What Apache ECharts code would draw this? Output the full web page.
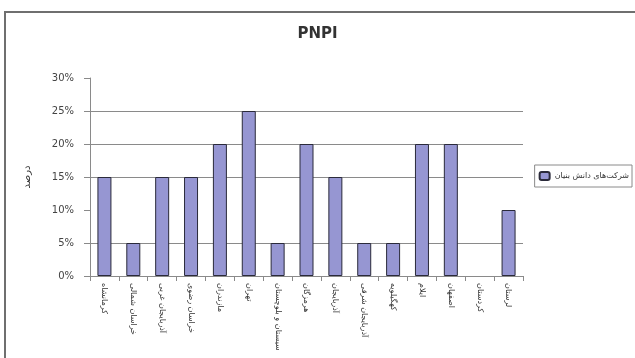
<!DOCTYPE html>
<html>
<head>
<meta charset="utf-8">
<script src="https://cdn.jsdelivr.net/npm/echarts@6/dist/echarts.min.js"></script>
<style>
  html, body { margin: 0; padding: 0; background: #fff; }
  #frame { position: absolute; left: 4px; top: 11px; width: 650px; height: 370px; border: 2px solid #6f6f6f; box-sizing: border-box; }
  #chart { position: absolute; left: 0; top: 0; width: 635px; height: 358px; }
</style>
</head>
<body>
<div id="frame"></div>
<div id="chart"></div>
<script>
// Categories (provinces) and their share in percent
const categories = ['کرمانشاه', 'خراسان شمالی', 'آذربایجان غربی', 'خراسان رضوی', 'مازندران', 'تهران', 'سیستان و بلوچستان', 'هرمزگان', 'آذربایجان', 'آذربایجان شرقی', 'کهگیلویه', 'ایلام', 'اصفهان', 'کردستان', 'لرستان'];
const values = [15, 5, 15, 15, 20, 25, 5, 20, 15, 5, 5, 20, 20, 0, 10];
const seriesName = 'شرکت‌های دانش بنیان';
const chartTitle = 'PNPI';
const yAxisTitle = 'درصد';

const chart = echarts.init(document.getElementById('chart'), null, { renderer: 'canvas' });
const gridColor = '#8a8a8a';
const barStyle = { color: '#9696d2', borderColor: '#2a2a3a', borderWidth: 1 };

// zero-height bars carry no outline
const barData = values.map(v => (v === 0 ? { value: v, itemStyle: { borderWidth: 0 } } : v));

chart.setOption({
  animation: false,
  backgroundColor: 'transparent',
  title: {
    text: chartTitle,
    left: 'center',
    top: 22,
    textStyle: { fontSize: 15, fontWeight: 'bold', color: '#333', fontFamily: 'DejaVu Sans, sans-serif' }
  },
  legend: {
    data: [seriesName],
    right: 3,
    top: 165,
    orient: 'vertical',
    borderColor: '#8a8a8a',
    borderWidth: 1,
    padding: [6, 3, 6, 4],
    itemWidth: 10,
    itemHeight: 8,
    itemGap: 4,
    textStyle: { fontSize: 8, color: '#333', fontFamily: 'DejaVu Sans, sans-serif' }
  },
  grid: { left: 90, right: 112, top: 78, bottom: 82, containLabel: false, outerBoundsMode: 'none' },
  xAxis: {
    type: 'category',
    data: categories,
    boundaryGap: true,
    axisLine: { show: true, lineStyle: { color: gridColor, width: 1 } },
    axisTick: { show: true, interval: 0, length: 5, lineStyle: { color: gridColor } },
    axisLabel: {
      interval: 0,
      rotate: -90,
      margin: 7,
      fontSize: 8,
      color: '#333',
      fontFamily: 'DejaVu Sans, sans-serif'
    }
  },
  yAxis: {
    type: 'value',
    min: 0,
    max: 30,
    interval: 5,
    name: yAxisTitle,
    nameLocation: 'middle',
    nameRotate: 90,
    nameGap: 58,
    nameTextStyle: { fontSize: 10, color: '#333', fontFamily: 'DejaVu Sans, sans-serif' },
    axisLine: { show: true, lineStyle: { color: gridColor, width: 1 } },
    axisTick: { show: true, length: 6, lineStyle: { color: gridColor } },
    axisLabel: {
      formatter: '{value}%',
      fontSize: 10,
      margin: 16,
      color: '#444',
      fontFamily: 'DejaVu Sans, sans-serif'
    },
    splitLine: {
      show: true,
      lineStyle: {
        color: [gridColor, gridColor, 'rgba(0,0,0,0)', gridColor, gridColor, gridColor, 'rgba(0,0,0,0)'],
        width: 1
      }
    }
  },
  series: [{
    name: seriesName,
    type: 'bar',
    data: barData,
    barWidth: 14,
    itemStyle: barStyle
  }]
});
</script>
</body>
</html>
